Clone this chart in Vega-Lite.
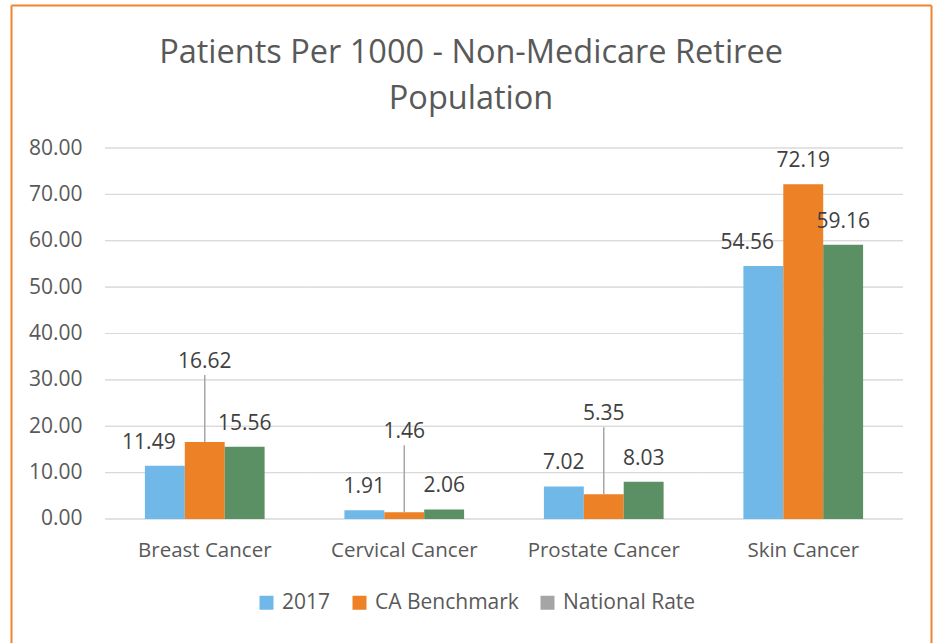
{
  "$schema": "https://vega.github.io/schema/vega-lite/v6.json",
  "width": 920,
  "height": 638,
  "autosize": "none",
  "padding": {"left": 11, "top": 5, "right": 4, "bottom": 0},
  "background": "white",
  "config": {"view": {"stroke": null}, "font": "Open Sans"},
  "title": {
    "text": ["Patients Per 1000 - Non-Medicare Retiree", "Population"],
    "fontSize": 32.5,
    "fontWeight": "normal",
    "font": "Open Sans",
    "color": "#595959",
    "anchor": "middle",
    "offset": -110,
    "lineHeight": 46
  },
  "datasets": {
    "main": [
      {"category": "Breast Cancer", "series": "2017", "value": 11.49},
      {"category": "Breast Cancer", "series": "CA Benchmark", "value": 16.62},
      {"category": "Breast Cancer", "series": "National Rate", "value": 15.56},
      {"category": "Cervical Cancer", "series": "2017", "value": 1.91},
      {"category": "Cervical Cancer", "series": "CA Benchmark", "value": 1.46},
      {"category": "Cervical Cancer", "series": "National Rate", "value": 2.06},
      {"category": "Prostate Cancer", "series": "2017", "value": 7.02},
      {"category": "Prostate Cancer", "series": "CA Benchmark", "value": 5.35},
      {"category": "Prostate Cancer", "series": "National Rate", "value": 8.03},
      {"category": "Skin Cancer", "series": "2017", "value": 54.56},
      {"category": "Skin Cancer", "series": "CA Benchmark", "value": 72.19},
      {"category": "Skin Cancer", "series": "National Rate", "value": 59.16}
    ],
    "grid": [
      {"category": "Breast Cancer", "value": [0, 10, 20, 30, 40, 50, 60, 70, 80]},
      {"category": "Cervical Cancer", "value": [0, 10, 20, 30, 40, 50, 60, 70, 80]},
      {"category": "Prostate Cancer", "value": [0, 10, 20, 30, 40, 50, 60, 70, 80]},
      {"category": "Skin Cancer", "value": [0, 10, 20, 30, 40, 50, 60, 70, 80]}
    ]
  },
  "layer": [
    {
      "layer": [
        {
          "data": {"name": "grid"},
          "transform": [{"flatten": ["value"]}],
          "mark": {"type": "bar", "fillOpacity": 0, "stroke": "#D9D9D9", "strokeWidth": 1},
          "encoding": {
            "x": {
              "field": "category", "type": "nominal", "title": null,
              "scale": {"domain": ["Breast Cancer", "Cervical Cancer", "Prostate Cancer", "Skin Cancer"], "paddingInner": 0, "paddingOuter": 0.3058, "align": 0.7705},
              "axis": {"orient": "bottom", "domain": false, "ticks": false, "tickSize": 0, "labelPadding": -87, "labelBaseline": "alphabetic", "labelFontSize": 20.5, "labelColor": "#595959", "labelFont": "Open Sans", "labelAngle": 0, "labelOverlap": false, "labelBound": false, "labelFlush": false, "grid": false}
            },
            "y": {
              "field": "value", "type": "quantitative", "title": null,
              "scale": {"domain": [-26.74, 110.84], "nice": false, "zero": false},
              "axis": {"orient": "left", "values": [0, 10, 20, 30, 40, 50, 60, 70, 80], "format": ".2f", "domainColor": "#EE8430", "domainWidth": 2, "ticks": false, "tickSize": 0, "labelPadding": -71, "labelFontSize": 21, "labelColor": "#595959", "labelFont": "Open Sans", "labelOverlap": false, "labelBound": false, "labelFlush": false, "grid": false}
            },
            "y2": {"field": "value"}
          }
        },
        {
          "data": {"name": "main"},
          "mark": {"type": "bar"},
          "encoding": {
            "x": {"field": "category", "type": "nominal", "title": null},
            "xOffset": {"field": "series", "type": "nominal", "sort": ["2017", "CA Benchmark", "National Rate"], "scale": {"paddingInner": 0, "paddingOuter": 1.125}},
            "y": {"field": "value", "type": "quantitative", "title": null},
            "y2": {"datum": 0},
            "color": {
              "field": "series", "type": "nominal",
              "scale": {"domain": ["2017", "CA Benchmark", "National Rate"], "range": ["#6FB8E8", "#EC8125", "#A5A5A5"]},
              "condition": {"test": "datum.series === 'National Rate'", "value": "#5B8F64"},
              "legend": {"title": null, "orient": "none", "legendX": 245, "legendY": 587, "direction": "horizontal", "symbolType": "square", "symbolSize": 196, "symbolStrokeWidth": 0, "labelFontSize": 21, "labelColor": "#595959", "labelFont": "Open Sans", "labelOffset": 5, "columnPadding": 18}
            }
          }
        },
        {
          "data": {"name": "main"},
          "transform": [{"filter": "!(datum.series === 'CA Benchmark' && datum.category !== 'Skin Cancer') && !(datum.series === '2017' && (datum.category === 'Breast Cancer' || datum.category === 'Skin Cancer'))"}],
          "mark": {"type": "text", "dy": -23, "baseline": "middle", "fontSize": 21, "color": "#404040", "font": "Open Sans"},
          "encoding": {
            "x": {"field": "category", "type": "nominal", "title": null},
            "xOffset": {"field": "series", "type": "nominal", "sort": ["2017", "CA Benchmark", "National Rate"]},
            "y": {"field": "value", "type": "quantitative", "title": null},
            "text": {"field": "value", "type": "quantitative", "format": ".2f"}
          }
        },
        {
          "data": {"name": "main"},
          "transform": [{"filter": "datum.series === '2017' && (datum.category === 'Breast Cancer' || datum.category === 'Skin Cancer')"}],
          "mark": {"type": "text", "dy": -23, "dx": -16, "baseline": "middle", "fontSize": 21, "color": "#404040", "font": "Open Sans"},
          "encoding": {
            "x": {"field": "category", "type": "nominal", "title": null},
            "xOffset": {"field": "series", "type": "nominal", "sort": ["2017", "CA Benchmark", "National Rate"]},
            "y": {"field": "value", "type": "quantitative", "title": null},
            "text": {"field": "value", "type": "quantitative", "format": ".2f"}
          }
        },
        {
          "data": {"name": "main"},
          "transform": [{"filter": "datum.series === 'CA Benchmark' && datum.category !== 'Skin Cancer'"}],
          "mark": {"type": "rule", "y2Offset": -67, "color": "#A6A6A6", "strokeWidth": 1.5},
          "encoding": {
            "x": {"field": "category", "type": "nominal", "title": null},
            "xOffset": {"field": "series", "type": "nominal", "sort": ["2017", "CA Benchmark", "National Rate"]},
            "y": {"field": "value", "type": "quantitative", "title": null},
            "y2": {"field": "value"}
          }
        },
        {
          "data": {"name": "main"},
          "transform": [{"filter": "datum.series === 'CA Benchmark' && datum.category !== 'Skin Cancer'"}],
          "mark": {"type": "text", "dy": -80, "baseline": "middle", "fontSize": 21, "color": "#404040", "font": "Open Sans"},
          "encoding": {
            "x": {"field": "category", "type": "nominal", "title": null},
            "xOffset": {"field": "series", "type": "nominal", "sort": ["2017", "CA Benchmark", "National Rate"]},
            "y": {"field": "value", "type": "quantitative", "title": null},
            "text": {"field": "value", "type": "quantitative", "format": ".2f"}
          }
        }
      ]
    },
    {
      "data": {"name": "main"},
      "mark": {"type": "point", "opacity": 0},
      "encoding": {
        "x": {
          "field": "category", "type": "nominal", "title": null,
          "axis": {"orient": "top", "domainColor": "#EE8430", "domainWidth": 2, "labels": false, "ticks": false, "grid": false}
        },
        "y": {
          "field": "value", "type": "quantitative", "title": null,
          "axis": {"orient": "right", "domainColor": "#EE8430", "domainWidth": 2, "labels": false, "ticks": false, "grid": false}
        }
      }
    }
  ],
  "resolve": {
    "scale": {"x": "independent", "y": "independent"},
    "axis": {"x": "independent", "y": "independent"}
  }
}
